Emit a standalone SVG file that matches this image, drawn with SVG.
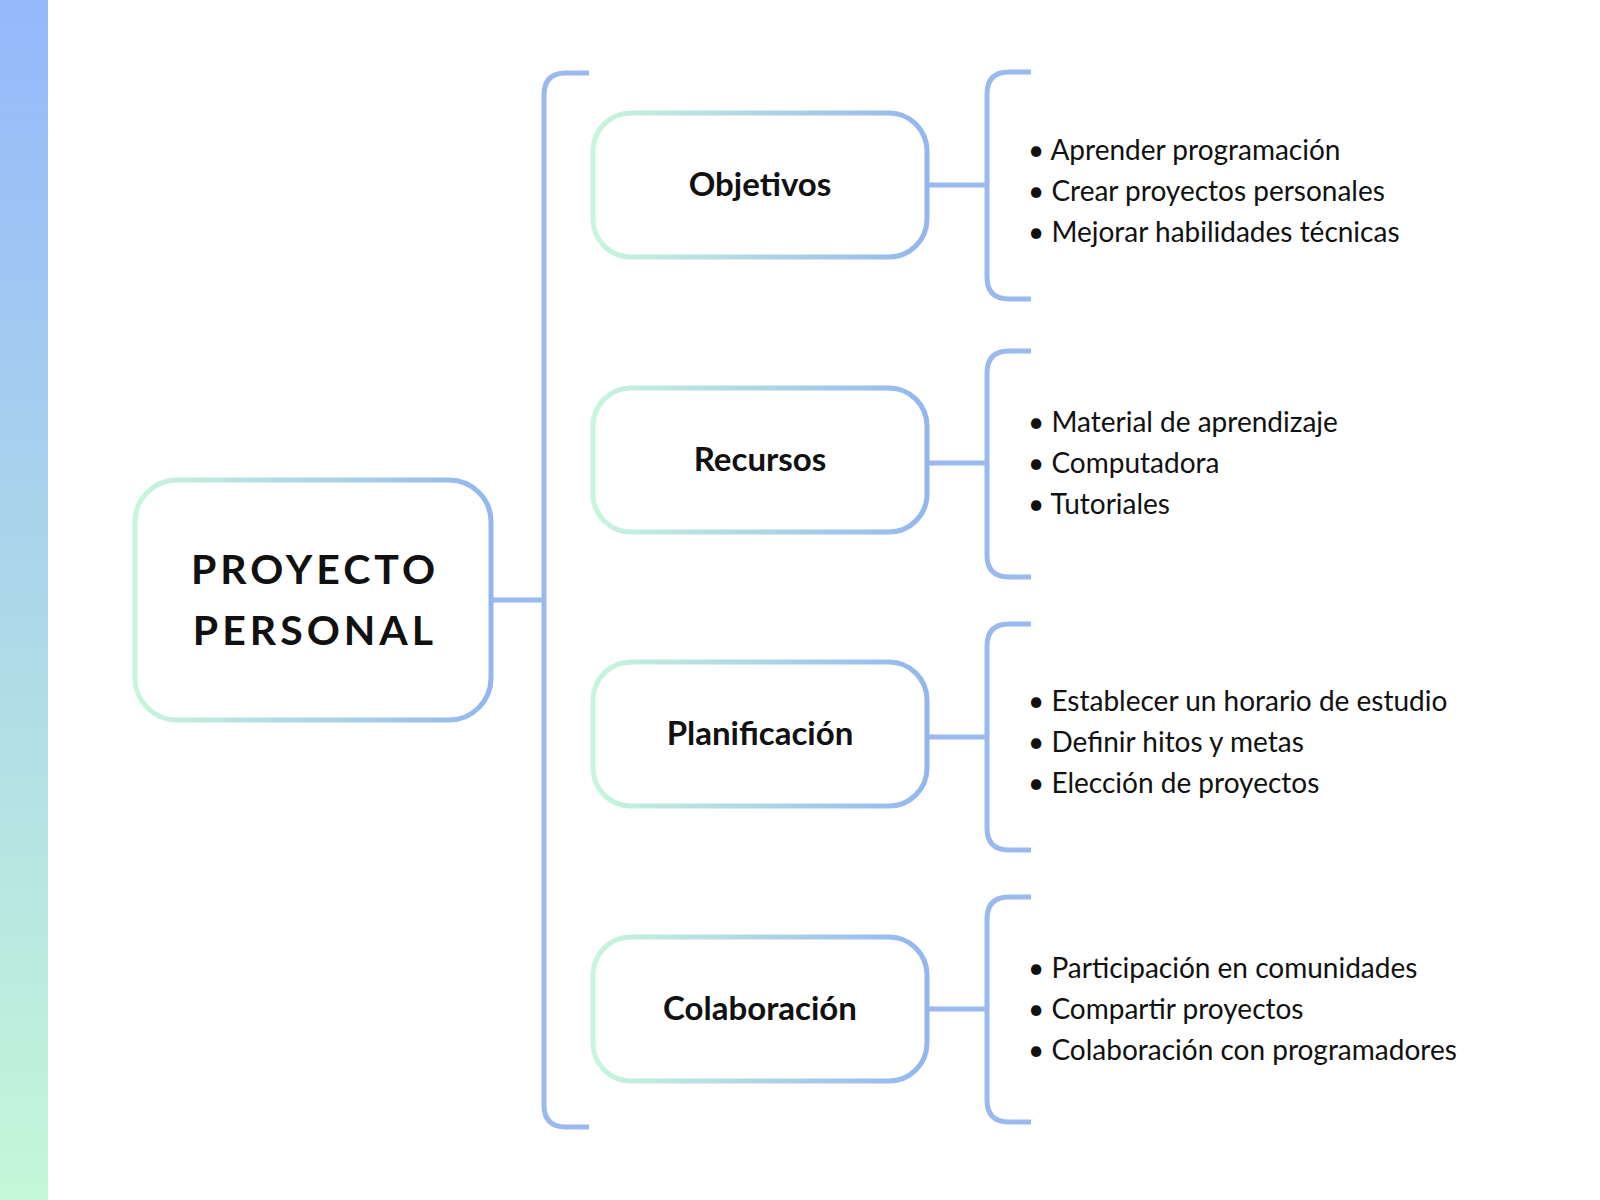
<svg xmlns="http://www.w3.org/2000/svg" width="1600" height="1200" viewBox="0 0 1600 1200">
<defs>
<linearGradient id="bar" x1="0" y1="0" x2="0" y2="1"><stop offset="0" stop-color="#95b8fb"/><stop offset="1" stop-color="#c5f7d8"/></linearGradient>
<linearGradient id="bx" x1="0" y1="0" x2="1" y2="0"><stop offset="0" stop-color="#c8f5dc"/><stop offset="1" stop-color="#93b6f0"/></linearGradient>
<style>
.box{fill:#fff;stroke:url(#bx);stroke-width:5}
.ln{fill:none;stroke:#99b9ef;stroke-width:5}
.lbl{font-family:Lato,"Open Sans",sans-serif;font-weight:bold;font-size:33px;fill:#111;text-anchor:middle}
.main{font-family:Lato,"Open Sans",sans-serif;font-weight:bold;font-size:41px;letter-spacing:4px;fill:#111;text-anchor:middle}
.it{font-family:Lato,"Open Sans",sans-serif;font-size:28px;fill:#111}
</style>
</defs>
<rect width="1600" height="1200" fill="#fff"/>
<rect x="0" y="0" width="48" height="1200" fill="url(#bar)"/>
<g id="connectors">
<path class="ln" d="M491 600H544"/>
<path class="ln" d="M589 73H566Q544 73 544 95V1105Q544 1127 566 1127H589"/>
<path class="ln" d="M927 185H987M927 463H987M927 737H987M927 1009H987"/>
<path class="ln" d="M1031 72H1009Q987 72 987 94V277Q987 299 1009 299H1031"/>
<path class="ln" d="M1031 351H1009Q987 351 987 373V555Q987 577 1009 577H1031"/>
<path class="ln" d="M1031 624H1009Q987 624 987 646V828Q987 850 1009 850H1031"/>
<path class="ln" d="M1031 897H1009Q987 897 987 919V1100Q987 1122 1009 1122H1031"/>
</g>
<g id="main"><rect class="box" x="135" y="480" width="356" height="240" rx="42"/>
<text class="main" x="315" y="584">PROYECTO</text><text class="main" x="315" y="645">PERSONAL</text></g>
<g id="n1"><rect class="box" x="593" y="113" width="334" height="144" rx="38"/><text class="lbl" x="760" y="196">Objetivos</text></g>
<g id="n2"><rect class="box" x="593" y="388" width="334" height="144" rx="38"/><text class="lbl" x="760" y="471">Recursos</text></g>
<g id="n3"><rect class="box" x="593" y="662" width="334" height="144" rx="38"/><text class="lbl" x="760" y="745">Planificación</text></g>
<g id="n4"><rect class="box" x="593" y="937" width="334" height="144" rx="38"/><text class="lbl" x="760" y="1020">Colaboración</text></g>
<g id="items" class="it">
<text x="1028" y="160">•  Aprender programación</text>
<text x="1028" y="201">•  Crear proyectos personales</text>
<text x="1028" y="242">•  Mejorar habilidades técnicas</text>
<text x="1028" y="432">•  Material de aprendizaje</text>
<text x="1028" y="473">•  Computadora</text>
<text x="1028" y="514">•  Tutoriales</text>
<text x="1028" y="711">•  Establecer un horario de estudio</text>
<text x="1028" y="752">•  Definir hitos y metas</text>
<text x="1028" y="793">•  Elección de proyectos</text>
<text x="1028" y="978">•  Participación en comunidades</text>
<text x="1028" y="1019">•  Compartir proyectos</text>
<text x="1028" y="1060">•  Colaboración con programadores</text>
</g>
</svg>
